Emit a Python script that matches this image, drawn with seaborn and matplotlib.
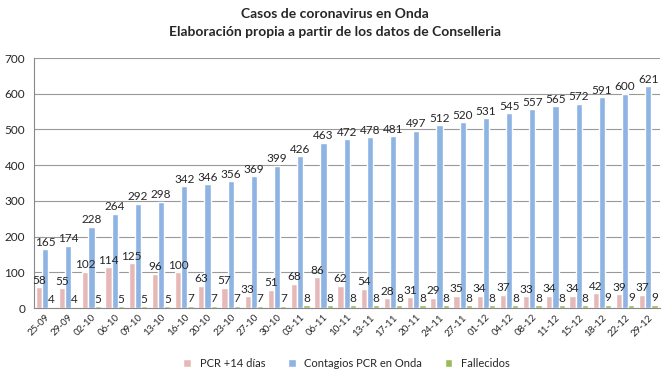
import matplotlib
matplotlib.use("Agg")
import matplotlib.pyplot as plt
import pandas as pd
import seaborn as sns

fechas = ['25-09', '29-09', '02-10', '06-10', '09-10', '13-10', '16-10', '20-10', '23-10',
          '27-10', '30-10', '03-11', '06-11', '10-11', '13-11', '17-11', '20-11', '24-11',
          '27-11', '01-12', '04-12', '08-12', '11-12', '15-12', '18-12', '22-12', '29-12']
pcr_14 = [58, 55, 102, 114, 125, 96, 100, 63, 57, 33, 51, 68, 86, 62, 54, 28, 31, 29, 35,
          34, 37, 33, 34, 34, 42, 39, 37]
contagios = [165, 174, 228, 264, 292, 298, 342, 346, 356, 369, 399, 426, 463, 472, 478, 481,
             497, 512, 520, 531, 545, 557, 565, 572, 591, 600, 621]
fallecidos = [4, 4, 5, 5, 5, 5, 7, 7, 7, 7, 7, 8, 8, 8, 8, 8, 8, 8, 8, 8, 8, 8, 8, 8, 9, 9, 9]

series = ['PCR +14 días', 'Contagios PCR en Onda', 'Fallecidos']
colores = ['#E6B9B8', '#8EB4E3', '#9BBB59']

df = pd.DataFrame({'fecha': fechas, series[0]: pcr_14, series[1]: contagios, series[2]: fallecidos})
df = df.melt('fecha', var_name='serie', value_name='valor')

sns.set_style('white')
plt.rcParams['font.family'] = ['Lato', 'DejaVu Sans']

fig = plt.figure(figsize=(6.7, 3.77), dpi=100)
ax = fig.add_axes([0.05, 0.183, 0.935, 0.663])

sns.barplot(data=df, x='fecha', y='valor', hue='serie', hue_order=series,
            palette=colores, width=0.8, saturation=1, ax=ax)

for cont in ax.containers:
    ax.bar_label(cont, fontsize=8.5, padding=1)

ax.set_ylim(0, 700)
ax.set_yticks(range(0, 701, 100))
ax.yaxis.grid(True, color='#999999', linewidth=0.8)
ax.set_axisbelow(True)
ax.set_xlabel('')
ax.set_ylabel('')
ax.set_xlim(-0.5, len(fechas) - 0.5)
for s in ['top', 'right']:
    ax.spines[s].set_visible(False)
for s in ['left', 'bottom']:
    ax.spines[s].set_color('#888888')
ax.tick_params(axis='y', labelsize=8.5, length=0, pad=6)
ax.tick_params(axis='x', labelsize=7, rotation=45, length=0)
for lbl in ax.get_xticklabels():
    lbl.set_ha('right')
    lbl.set_rotation_mode('anchor')

ax.legend(loc='upper center', bbox_to_anchor=(0.5, -0.16), ncol=3, frameon=False,
          fontsize=8, handlelength=0.7, handleheight=0.7, columnspacing=2.0)

fig.suptitle('Casos de coronavirus en Onda\nElaboración propia a partir de los datos de Conselleria',
             fontsize=10, fontweight='bold', y=0.978, linespacing=1.6)

fig.savefig('out.png', dpi=100)
